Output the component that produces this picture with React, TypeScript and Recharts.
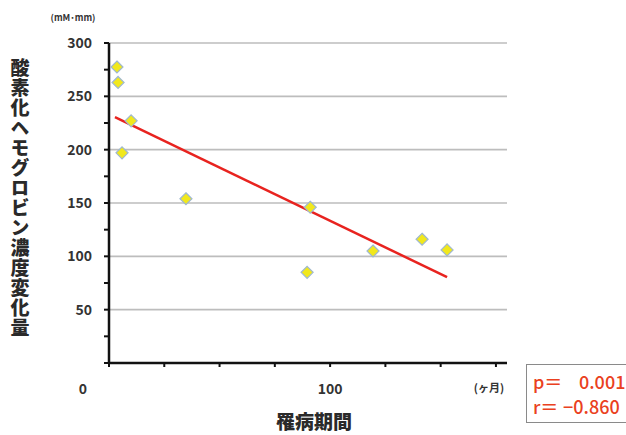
import React from "react";
import { ComposedChart, Scatter, XAxis, YAxis, CartesianGrid } from "recharts";

const months = [3.6, 4.1, 10, 5.9, 34.8, 91, 89.6, 119.4, 141.6, 152.9];
const hbChange = [277.5, 263, 227, 197, 154, 146, 85, 105, 116, 106];
const fitX = [2.7, 152.9];
const fitY = [230.5, 80.5];
const xTicks = [0, 25, 50, 75, 100, 125, 150, 175];
const xLabelTicks = [0, 100];
const yTicks = [0, 25, 50, 75, 100, 125, 150, 175, 200, 225, 250, 275, 300];
const yLabelTicks = [50, 100, 150, 200, 250, 300];
const gridValues = [50, 100, 150, 200, 250, 300];
const yTitle = "酸素化ヘモグロビン濃度変化量";
const xTitle = "罹病期間";
const yUnit = "(mM･mm)";
const xUnit = "(ヶ月)";
const statP = ["p＝", "0.001"];
const statR = ["r＝", "−0.860"];

const points = months.map((m, i) => ({ x: m, y: hbChange[i] }));
const fitLine = fitX.map((v, i) => ({ x: v, y: fitY[i] }));

const FONT = "'Noto Sans CJK JP', 'Noto Sans', sans-serif";

const Diamond = (props: any) => {
  const { cx, cy } = props;
  if (cx == null || cy == null) return null;
  const s = 6;
  return (
    <polygon
      points={`${cx},${cy - s} ${cx + s},${cy} ${cx},${cy + s} ${cx - s},${cy}`}
      fill="#f1e81c"
      stroke="#9fb8d0"
      strokeWidth={1.2}
    />
  );
};

const YTick = (props: any) => {
  const { x, y, payload } = props;
  if (!yLabelTicks.includes(payload.value)) return null;
  return (
    <text x={x - 10} y={y + 5} textAnchor="end" fontFamily={FONT} fontWeight={700} fontSize={14} fill="#333">
      {payload.value}
    </text>
  );
};

const XTick = (props: any) => {
  const { x, y, payload } = props;
  if (!xLabelTicks.includes(payload.value)) return null;
  const dx = payload.value === 0 ? -26 : 0;
  return (
    <text x={x + dx} y={y + 25} textAnchor="middle" fontFamily={FONT} fontWeight={700} fontSize={14} fill="#333">
      {payload.value}
    </text>
  );
};

const YTitle = () => {
  return (
    <g>
      <text
        x={20}
        y={198}
        textAnchor="middle"
        fontFamily={FONT}
        fontWeight={900}
        fontSize={19}
        fill="#2a2a2a"
        letterSpacing={1}
        style={{ writingMode: "vertical-rl" } as any}
      >
        {yTitle}
      </text>
      <text x={73} y={21} textAnchor="middle" fontFamily={FONT} fontWeight={700} fontSize={9} fill="#333">
        {yUnit}
      </text>
    </g>
  );
};

const XTitle = () => (
  <g>
    <text x={314} y={429} textAnchor="middle" fontFamily={FONT} fontWeight={900} fontSize={19} fill="#2a2a2a">
      {xTitle}
    </text>
    <text x={489} y={392} textAnchor="middle" fontFamily={FONT} fontWeight={700} fontSize={11} fill="#333">
      {xUnit}
    </text>
  </g>
);

export default function App() {
  const rowStyle: React.CSSProperties = { position: "absolute", left: 6, whiteSpace: "pre" };
  return (
    <div style={{ position: "absolute", left: 0, top: 0, width: 626, height: 435, background: "#fff", overflow: "hidden" }}>
      <ComposedChart width={626} height={435} margin={{ top: 43, right: 119, bottom: 42, left: 49 }}>
        <CartesianGrid vertical={false} horizontalValues={gridValues} stroke="#bdbdbd" strokeWidth={1.6} />
        <XAxis
          type="number"
          dataKey="x"
          domain={[0, 180]}
          ticks={xTicks}
          interval={0}
          height={30}
          tick={<XTick />}
          tickSize={4}
          axisLine={{ stroke: "#111", strokeWidth: 2.5 }}
          tickLine={{ stroke: "#111", strokeWidth: 2 }}
          label={<XTitle />}
          allowDataOverflow
        />
        <YAxis
          type="number"
          dataKey="y"
          domain={[0, 300]}
          ticks={yTicks}
          interval={0}
          width={60}
          tick={<YTick />}
          tickSize={5}
          axisLine={{ stroke: "#111", strokeWidth: 2.5 }}
          tickLine={{ stroke: "#111", strokeWidth: 2 }}
          label={<YTitle />}
        />
        <Scatter
          data={fitLine}
          line={{ stroke: "#e8231f", strokeWidth: 2.5 }}
          shape={() => null}
          isAnimationActive={false}
        />
        <Scatter data={points} shape={<Diamond />} isAnimationActive={false} />
      </ComposedChart>
      <div
        style={{
          position: "absolute",
          left: 526,
          top: 364,
          width: 110,
          height: 59,
          border: "1px solid #8a8a8a",
          boxSizing: "border-box",
          fontFamily: FONT,
          color: "#ea4020",
          fontSize: 18,
          fontWeight: 500,
          lineHeight: "18px",
        }}
      >
        <div style={{ ...rowStyle, top: 7 }}>
          <span>{statP[0]}</span>
          <span style={{ position: "absolute", left: 46 }}>{statP[1]}</span>
        </div>
        <div style={{ ...rowStyle, top: 32 }}>
          <span>{statR[0]}</span>
          <span style={{ position: "absolute", left: 30 }}>{statR[1]}</span>
        </div>
      </div>
    </div>
  );
}
